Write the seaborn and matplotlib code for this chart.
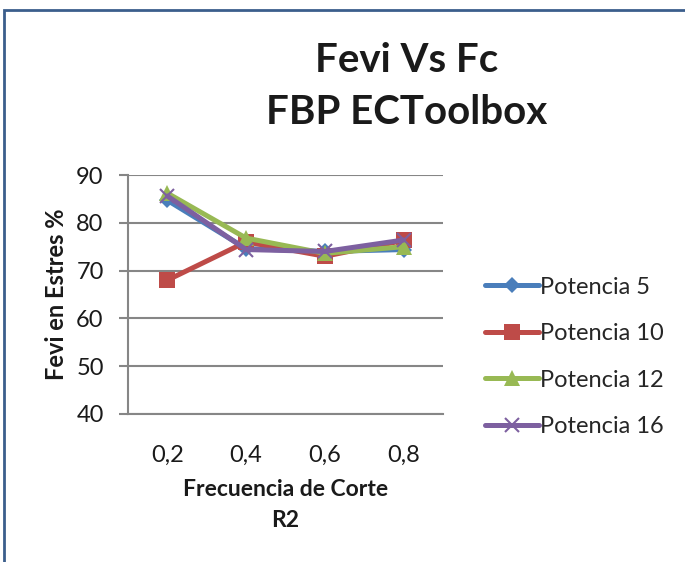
import matplotlib
matplotlib.use("Agg")
import matplotlib.pyplot as plt
import seaborn as sns
import pandas as pd
from matplotlib.patches import Rectangle

# Cut-off frequencies (category labels) and Fevi values per power level
frecuencias = ["0,2", "0,4", "0,6", "0,8"]
potencia_5 = [84.7, 74.6, 74.0, 74.4]
potencia_10 = [68.0, 76.0, 73.0, 76.3]
potencia_12 = [86.2, 76.8, 73.6, 75.0]
potencia_16 = [85.6, 74.4, 74.0, 76.4]

series = {
    "Potencia 5": potencia_5,
    "Potencia 10": potencia_10,
    "Potencia 12": potencia_12,
    "Potencia 16": potencia_16,
}
rows = []
for name, vals in series.items():
    for f, v in zip(frecuencias, vals):
        rows.append({"Frecuencia": f, "Fevi": v, "Serie": name})
df = pd.DataFrame(rows)

sns.set_theme(style="white")
plt.rcParams["font.family"] = ["Lato", "DejaVu Sans"]

palette = {
    "Potencia 5": "#4A7EBB",
    "Potencia 10": "#BE4B48",
    "Potencia 12": "#98B954",
    "Potencia 16": "#7D60A0",
}
markers = {
    "Potencia 5": "D",
    "Potencia 10": "s",
    "Potencia 12": "^",
    "Potencia 16": "x",
}
msizes = {"Potencia 5": 8, "Potencia 10": 11, "Potencia 12": 11, "Potencia 16": 10}

fig = plt.figure(figsize=(6.85, 5.62), dpi=100)
ax = fig.add_axes([128 / 685, 1 - 414 / 562, 315 / 685, 239 / 562])

for name in series:
    sub = df[df["Serie"] == name]
    sns.lineplot(
        data=sub, x="Frecuencia", y="Fevi", ax=ax, color=palette[name],
        marker=markers[name], markersize=msizes[name], linewidth=3.6,
        markeredgewidth=1.5 if name == "Potencia 16" else 0,
        markeredgecolor=palette[name], label=name, sort=False,
    )

ax.set_xlim(-0.5, 3.5)
ax.set_ylim(40, 90)
ax.set_yticks([40, 50, 60, 70, 80, 90])
ax.grid(axis="y", color="#868686", linewidth=1.5)
ax.set_axisbelow(True)
for side in ["top", "right"]:
    ax.spines[side].set_visible(False)
for side in ["left", "bottom"]:
    ax.spines[side].set_color("#868686")
    ax.spines[side].set_linewidth(1.5)
ax.tick_params(axis="y", which="both", left=True, length=6.5, width=1.5,
               color="#868686", labelsize=17, labelcolor="#1a1a1a", pad=11)
ax.tick_params(axis="x", bottom=False, labelsize=17, labelcolor="#1a1a1a", pad=16)

ax.set_ylabel("Fevi en Estres %", fontsize=17, fontweight="bold", color="#1a1a1a", labelpad=6)
ax.set_xlabel("Frecuencia de Corte\nR2", fontsize=16.5, fontweight="bold",
              color="#1a1a1a", labelpad=10, linespacing=1.55)

fig.text(407 / 685, 1 - 60 / 562, "Fevi Vs Fc", ha="center", va="center",
         fontsize=29, fontweight="bold", color="#1a1a1a")
fig.text(407 / 685, 1 - 113 / 562, "FBP ECToolbox", ha="center", va="center",
         fontsize=29, fontweight="bold", color="#1a1a1a")

ax.legend(loc="center left", bbox_to_anchor=(468 / 685, 1 - 357 / 562),
          bbox_transform=fig.transFigure, frameon=False, fontsize=17,
          handlelength=2.3, handletextpad=0.05, labelspacing=1.08,
          borderpad=0.2)

# Chart area frame
fig.patches.append(Rectangle((4 / 685, -0.1), 1.2, 1.1 - 10 / 562,
                             transform=fig.transFigure, fill=False,
                             edgecolor="#3B5E8C", linewidth=2.0))

fig.savefig("out.png", dpi=100)
